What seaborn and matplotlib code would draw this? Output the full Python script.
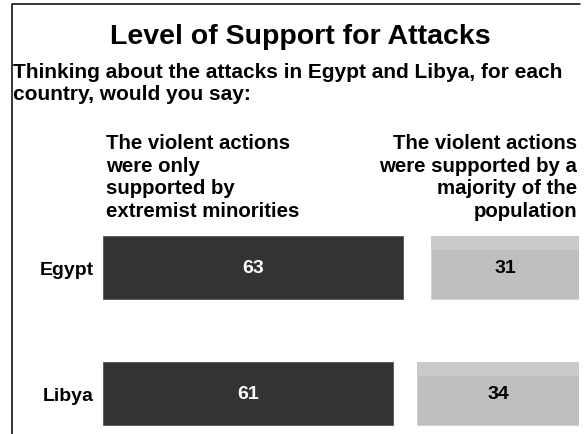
import numpy as np
import matplotlib
matplotlib.use("Agg")
import matplotlib.pyplot as plt
from matplotlib.lines import Line2D
import pandas as pd
import seaborn as sns

# data
countries = ["Egypt", "Libya"]
minority_only = [63, 61]       # only supported by extremist minorities
majority_support = [31, 34]    # supported by a majority of the population

title = "Level of Support for Attacks"
question = ["Thinking about the attacks in Egypt and Libya, for each",
            "country, would you say:"]
left_header = ["The violent actions", "were only", "supported by",
               "extremist minorities"]
right_header = ["The violent actions", "were supported by a",
                "majority of the", "population"]

df = pd.DataFrame({"country": countries,
                   "minority": minority_only,
                   "majority": majority_support})

sns.set_theme(style="white")
plt.rcParams["font.family"] = ["Liberation Sans", "DejaVu Sans"]
plt.rcParams["text.color"] = "black"

W, H = 587, 435
fig = plt.figure(figsize=(W / 100, H / 100), dpi=100)
ax = fig.add_axes([103 / W, 0, 476 / W, 198 / H])

bar_h = 0.5
sns.barplot(data=df, y="country", x="minority", orient="h", color="#333333",
            width=bar_h, saturation=1, ax=ax, edgecolor="#555555", linewidth=0.6)

# right-hand bars end at 100
left = 100 - df["majority"]
ax.barh(range(len(df)), df["majority"], left=left, height=bar_h,
        color="#bfbfbf", edgecolor="#d0d0d0", linewidth=0.6)
# lighter band on top of the grey bars
ax.barh(np.arange(len(df)) - bar_h / 2, df["majority"], left=left, height=0.11,
        align="edge", color="#c9c9c9", linewidth=0)

for i, row in df.iterrows():
    ax.text(row["minority"] / 2, i, str(row["minority"]), ha="center", va="center",
            color="white", fontsize=14, fontweight="bold")
    ax.text(100 - row["majority"] / 2, i, str(row["majority"]), ha="center", va="center",
            color="black", fontsize=14, fontweight="bold")

ax.set_xlim(0, 100)
ax.set_ylim(1.32, -0.25)
ax.set_xlabel("")
ax.set_ylabel("")
ax.set_xticks([])
ax.tick_params(axis="y", length=0, pad=6.5)
for lab in ax.get_yticklabels():
    lab.set_fontweight("bold")
    lab.set_fontsize(14)
    lab.set_color("black")
sns.despine(ax=ax, left=True, bottom=True)


def put_lines(lines, x, y0, step, size, ha="left"):
    for k, line in enumerate(lines):
        fig.text(x / W, 1 - (y0 + k * step) / H, line, ha=ha, va="baseline",
                 fontsize=size, fontweight="bold")


fig.text(300 / W, 1 - 44 / H, title, ha="center", va="baseline",
         fontsize=20.5, fontweight="bold")
put_lines(question, 13, 78, 22, 15)
put_lines(left_header, 106, 149, 22.7, 14.7, "left")
put_lines(right_header, 577, 149, 22.7, 14.7, "right")

# frame lines (left and top)
fig.add_artist(Line2D([12 / W, 12 / W, 580 / W], [0, 1 - 5 / H, 1 - 5 / H],
                      color="black", linewidth=1.1))

fig.savefig("out.png", dpi=100)
